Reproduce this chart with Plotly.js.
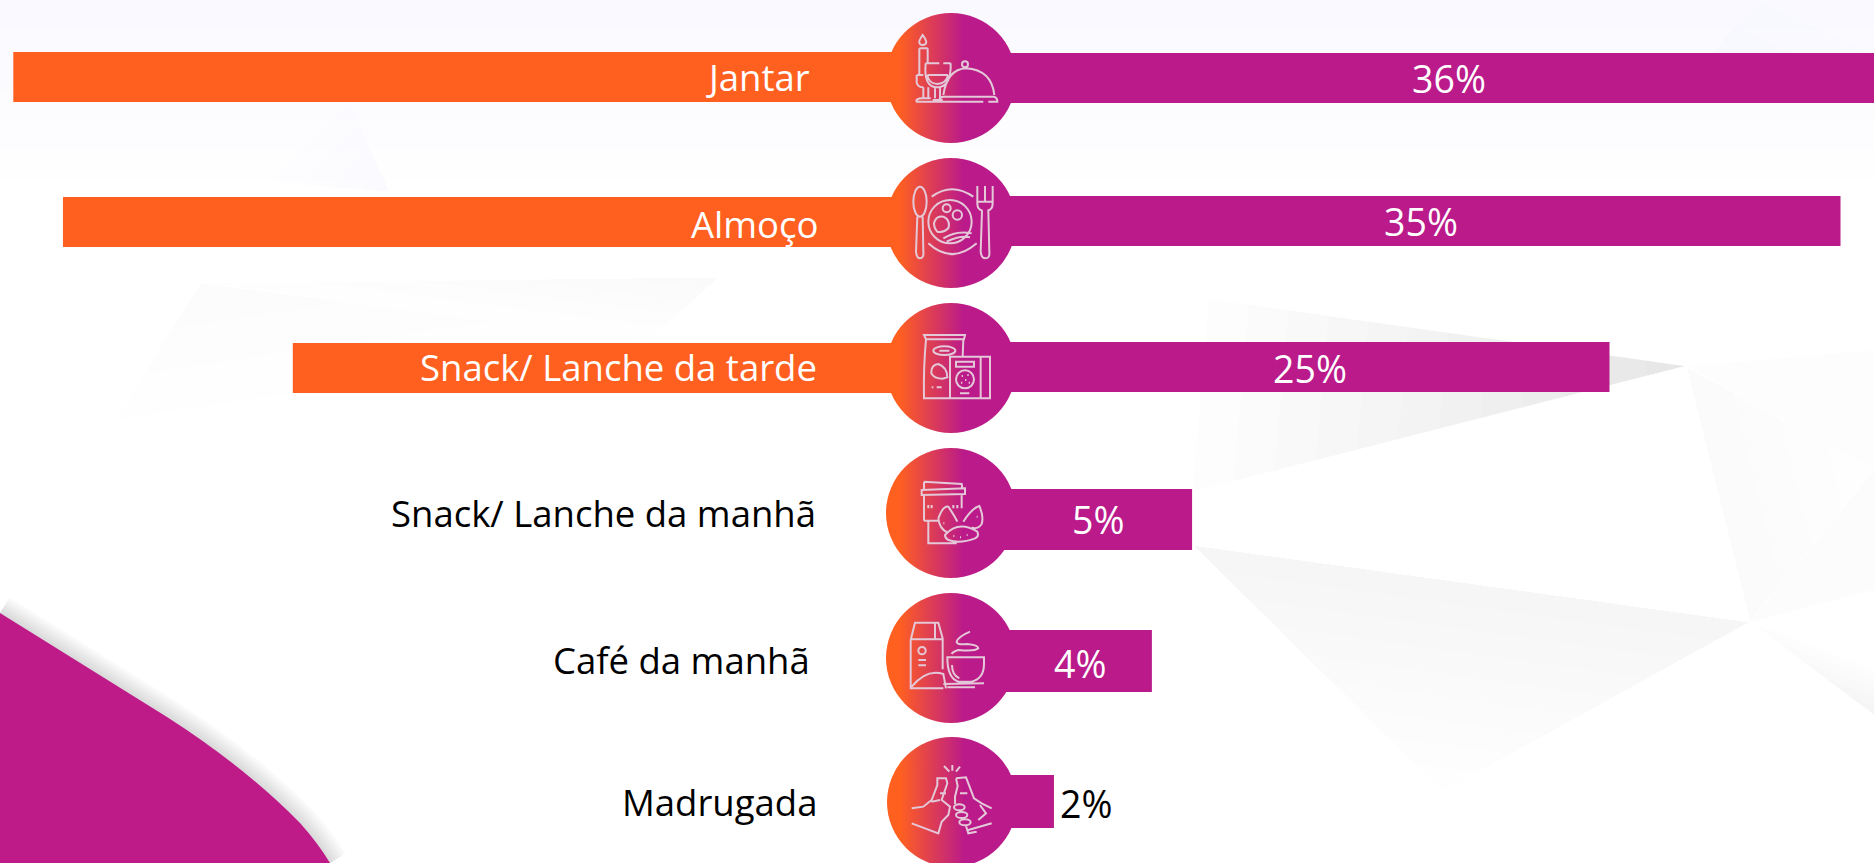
<!DOCTYPE html>
<html>
<head>
<meta charset="utf-8">
<script src="https://cdn.plot.ly/plotly-3.0.1.min.js"></script>
<style>html,body{margin:0;padding:0;background:#fff;overflow:hidden}#chart{width:1874px;height:863px}</style>
</head>
<body>
<div id="chart"></div>
<script>
// ---- data ----
const categories = ["Jantar", "Almoço", "Snack/ Lanche da tarde", "Snack/ Lanche da manhã", "Café da manhã", "Madrugada"];
const shareLabels = [36, 35, 25, 5, 4, 2];
const rightBarLengths = [37, 35, 25, 6.93, 5.19, 0.95];
const leftBarLengths = [37, 34.85, 24.9, null, null, null];

// ---- layout constants (pixels) ----
const W = 1874, H = 863, CX = 950, UNIT = 23.1, HUB = 82 / UNIT;
const ORANGE = "#FF6020", MAGENTA = "#BA1A8A", ICON = "#E4C8D8";
const rowY = [78, 223, 368, 513, 658, 802];
const rightBarY = [78, 221, 367, 519.5, 661, 801.5];
const rightBarH = [50, 50, 50, 61, 62, 53];
const leftBarY = [77, 222, 368, null, null, null];
const leftBarH = [50, 50, 50, 0, 0, 0];
const labelRight = [812, 820, 819, 818, 812, 819];
const labelY = [77, 224, 367, 513, 660, 802];
const valueX = [1449, 1421, 1310, 1098, 1080, 1086];
const valueY = [78, 221, 368, 519, 663, 803];
const valueColor = ["#fff", "#fff", "#fff", "#fff", "#fff", "#000"];
const circleX = [951, 951, 951, 951, 951, 952];
const orangeStop = [0.1, 0.1, 0.08, 0.03, 0.03, 0.03];

// ---- helpers for decoration paths ----
function ell(cx, cy, rx, ry) {
  const k = 0.5523, a = rx * k, b = ry * k;
  return `M${cx - rx} ${cy} C${cx - rx} ${cy - b} ${cx - a} ${cy - ry} ${cx} ${cy - ry} C${cx + a} ${cy - ry} ${cx + rx} ${cy - b} ${cx + rx} ${cy} C${cx + rx} ${cy + b} ${cx + a} ${cy + ry} ${cx} ${cy + ry} C${cx - a} ${cy + ry} ${cx - rx} ${cy + b} ${cx - rx} ${cy} Z `;
}
const circ = (cx, cy, r) => ell(cx, cy, r, r);
function place(d, ox, oy) {
  return d.replace(/(-?\d+\.?\d*) (-?\d+\.?\d*)/g, (m, x, y) => (ox + x / 3).toFixed(2) + " " + (oy + y / 3).toFixed(2));
}
const icons = [
  { o: [860, 0], d:
    "M188 105 Q176 122 178 128 Q180 135 188 135 Q198 135 199 126 Q198 118 188 105 Z " +
    "M178 145 L203 145 M178 145 L178 225 M203 145 L203 190 " +
    "M170 225 L190 225 M170 225 L170 248 Q174 262 190 262 " +
    "M190 262 L190 295 M205 262 L205 295 M168 305 L370 305 M168 305 Q170 295 185 295 L212 295 " +
    "M197 190 L238 190 M250 190 L272 190 M197 190 Q190 262 232 262 Q274 262 272 190 " +
    "M202 225 L264 225 M202 225 Q205 250 232 252 Q260 250 264 225 " +
    "M225 262 L225 295 M240 262 L240 295 M218 300 L248 300 " +
    "M250 285 Q262 208 318 205 Q395 210 403 285 " + circ(315, 193, 9) +
    "M238 300 Q240 290 250 290 L402 290 Q412 292 412 305 L385 305 " },
  { o: [860, 0], d:
    ell(180, 605, 20, 45) +
    "M172 650 L168 755 Q170 775 180 775 Q192 775 190 755 L188 650 " +
    "M352 558 L352 610 Q352 630 368 632 M398 558 L398 610 Q398 630 382 632 M375 558 L375 605 M352 605 L398 605 " +
    "M366 632 L362 755 Q364 775 376 775 Q390 775 388 755 L385 632 " +
    "M215 590 Q275 545 340 590 M205 730 Q275 795 350 730 " +
    circ(270, 665, 65) + circ(260, 625, 12) + circ(292, 645, 14) +
    "M222 670 Q228 645 250 650 Q272 660 265 685 Q250 700 232 695 Q222 685 222 670 Z " +
    "M250 715 Q290 690 335 700 M260 725 Q300 705 330 712 " },
  { o: [860, 290], d:
    "M192 135 L315 135 L312 148 L198 148 Z M198 148 Q190 235 192 325 L390 325 L390 200 L270 200 L270 325 M310 148 L308 200 M362 200 L362 325 " +
    ell(253, 182, 33, 13) + "M238 182 L268 182 " +
    "M214 250 Q212 225 235 222 Q262 232 262 262 L248 266 Q222 266 214 250 Z M215 292 L220 292 M230 292 L245 292 " +
    "M288 215 L342 215 L342 230 L288 230 Z " + circ(315, 268, 27) +
    "M305 258 L309 258 M322 255 L326 255 M315 270 L319 270 M303 278 L307 278 M326 278 L330 278 M300 310 L328 310 " },
  { o: [860, 290], d:
    "M192 575 L305 582 L307 595 M192 575 L192 597 M185 600 L315 595 L315 612 L185 615 Z " +
    "M192 615 L192 692 M205 692 L205 760 L290 760 M192 692 L235 692 M305 612 L305 655 " +
    "M205 645 L205 655 M215 645 L215 655 M280 645 L280 655 M292 645 L292 655 " +
    "M235 685 Q250 645 265 650 Q285 680 292 695 M235 685 Q238 715 262 728 " +
    "M310 695 Q335 655 358 648 Q372 680 365 702 Q352 720 335 712 " +
    "M255 735 Q295 690 352 725 Q358 740 345 745 Q300 762 265 750 Q255 745 255 735 Z " +
    "M280 738 L283 738 M300 742 L303 742 M320 735 L323 735 M250 700 L253 700 M350 680 L353 680 " },
  { o: [860, 580], d:
    "M152 180 L165 128 L235 128 L248 175 L248 268 M152 178 L248 178 M152 180 L152 325 L250 325 M225 130 L225 175 " +
    circ(186, 212, 11) + "M175 240 L198 240 M175 256 L198 256 " +
    "M155 320 Q200 265 250 282 L258 325 " +
    "M262 232 L372 232 L372 252 Q372 295 335 305 L295 305 Q262 295 262 232 Z " +
    "M250 312 L372 310 M262 322 L345 322 M276 255 Q276 285 298 295 " +
    "M330 155 Q295 170 290 185 Q290 195 320 192 Q355 195 355 205 Q345 215 295 210 Q278 215 275 222 " },
  { o: [860, 580], d:
    "M252 558 L268 575 M277 555 L277 572 M300 560 L288 575 " +
    "M155 685 L190 680 L215 660 L232 615 L232 595 L258 595 L262 610 L245 660 L270 680 L265 705 L245 725 L235 760 L195 745 L155 730 " +
    "M240 640 L258 640 M215 665 L240 660 " +
    "M288 595 L318 592 L325 610 L342 655 L365 670 L395 685 M288 595 L293 618 L285 650 L285 672 " +
    ell(298, 682, 16, 9) + ell(305, 705, 17, 9) + ell(315, 727, 17, 9) + "M325 750 L395 730 M360 675 L378 700 L355 720 M318 738 L325 760 L350 755 M300 640 L322 640 " }
];

// ---- decoration shapes (pixel axes x2 / y) ----
function poly(pts, fill) {
  return { type: "path", xref: "x2", yref: "y", layer: "below", line: { width: 0 }, fillcolor: fill,
    path: "M" + pts.map(p => p.map(n => n.toFixed(1)).join(" ")).join(" L") + " Z" };
}
const lerp = (a, b, t) => [a[0] + (b[0] - a[0]) * t, a[1] + (b[1] - a[1]) * t];
function fan(apex, p1, p2, steps, alpha, tint) {
  const out = [];
  for (let i = 1; i <= steps; i++) {
    const t = i / steps;
    out.push(poly([apex, lerp(apex, p1, t), lerp(apex, p2, t)], `rgba(${tint || "40,40,55"},${alpha})`));
  }
  return out;
}
function wedge(a, b, c, steps, alpha, tint) {
  const out = [];
  for (let i = 1; i <= steps; i++) {
    const t = i / steps;
    out.push(poly([a, b, lerp(b, c, t), lerp(a, c, t)], `rgba(${tint || "30,30,30"},${alpha})`));
  }
  return out;
}
const topWash = [30, 60, 90, 120, 150, 180].map(h => poly([[0, 0], [W, 0], [W, h], [0, h]], "rgba(225,225,250,0.04)"));
const backdrop = [
  ...topWash,
  ...fan([1686, 366], [1209, 299], [1192, 492], 12, 0.008),
  ...wedge([1192, 545], [1750, 622], [1443, 792], 9, 0.005),
  ...wedge([1686, 366], [1750, 622], [1874, 470], 4, 0.004),
  poly([[1750, 622], [1874, 590], [1874, 470]], "rgba(0,0,0,0.012)"),
  poly([[1686, 366], [1874, 350], [1874, 470]], "rgba(0,0,0,0.006)"),
  ...fan([1874, 715], [1750, 622], [1874, 670], 5, 0.008, "30,30,30"),
  ...fan([1686, 80], [1760, 0], [1874, 55], 3, 0.004, "100,100,150"),
  ...fan([390, 192], [270, 183], [350, 103], 4, 0.005, "100,100,160"),
  ...fan([720, 277], [200, 283], [649, 340], 5, 0.004, "30,30,30"),
  ...fan([200, 283], [115, 420], [649, 340], 3, 0.003, "30,30,30")
];
const edge = "M0 613 L167 717 Q245 767 300 823 Q318 843 330 863";
const swoosh = [36, 30, 24, 18, 12, 6].map(w => ({ type: "path", xref: "x2", yref: "y", layer: "below", path: edge,
  line: { color: "rgba(80,80,80,0.035)", width: w }, fillcolor: "rgba(0,0,0,0)" }));
swoosh.push({ type: "path", xref: "x2", yref: "y", layer: "below", path: edge + " L0 863 Z",
  line: { width: 0 }, fillcolor: "#BE1A88" });
const iconShapes = icons.map(ic => ({ type: "path", xref: "x2", yref: "y", layer: "above",
  path: place(ic.d, ic.o[0], ic.o[1]), line: { color: ICON, width: 2 }, fillcolor: "rgba(0,0,0,0)" }));

// ---- traces ----
const traces = [
  { type: "bar", orientation: "h", y: leftBarY, x: leftBarLengths.map(v => v === null ? null : -(v + HUB)),
    width: leftBarH, marker: { color: ORANGE, line: { width: 0 } }, hoverinfo: "skip" },
  { type: "bar", orientation: "h", y: rightBarY, x: rightBarLengths.map(v => v + HUB),
    width: rightBarH, marker: { color: MAGENTA, line: { width: 0 } }, hoverinfo: "skip" },
  { type: "scatter", mode: "markers", xaxis: "x2", yaxis: "y", x: circleX, y: rowY, cliponaxis: false, hoverinfo: "skip",
    marker: { size: 130, color: MAGENTA, line: { width: 0 }, gradient: { type: "horizontal", color: ORANGE } } }
];

const font = '"Open Sans", sans-serif';
const annotations = [
  ...categories.map((c, i) => ({ text: c, xref: "x2", yref: "y", x: labelRight[i], y: labelY[i], xanchor: "right", yanchor: "middle",
    showarrow: false, font: { family: font, size: 36.5, color: i < 3 ? "#fff" : "#000" } })),
  ...shareLabels.map((v, i) => ({ text: v + "%", xref: "x2", yref: "y", x: valueX[i], y: valueY[i], xanchor: "center", yanchor: "middle",
    showarrow: false, font: { family: font, size: 37.5, color: valueColor[i] } }))
];

const layout = {
  width: W, height: H, margin: { l: 0, r: 0, t: 0, b: 0, pad: 0 }, showlegend: false, barmode: "overlay", hovermode: false,
  paper_bgcolor: "#fff", plot_bgcolor: "rgba(0,0,0,0)",
  xaxis: { range: [-CX / UNIT, (W - CX) / UNIT], visible: false, fixedrange: true },
  xaxis2: { range: [0, W], overlaying: "x", visible: false, fixedrange: true },
  yaxis: { range: [H, 0], visible: false, fixedrange: true },
  shapes: [...backdrop, ...swoosh, ...iconShapes],
  annotations
};

Plotly.newPlot("chart", traces, layout, { displayModeBar: false, staticPlot: true }).then(gd => {
  // Each circle fades left to right: orange at its far edge, full magenta just past its centre.
  gd.querySelectorAll("linearGradient").forEach((g, i) => {
    const stops = g.querySelectorAll("stop");
    if (stops.length !== 2) return;
    g.setAttribute("x1", "0"); g.setAttribute("x2", "1"); g.setAttribute("y1", "0"); g.setAttribute("y2", "0");
    g.setAttribute("gradientUnits", "objectBoundingBox");
    stops[0].setAttribute("stop-color", ORANGE);
    stops[0].setAttribute("offset", String(orangeStop[i] !== undefined ? orangeStop[i] : 0.08));
    stops[1].setAttribute("stop-color", MAGENTA);
    stops[1].setAttribute("offset", "0.6");
  });
});
</script>
</body>
</html>
